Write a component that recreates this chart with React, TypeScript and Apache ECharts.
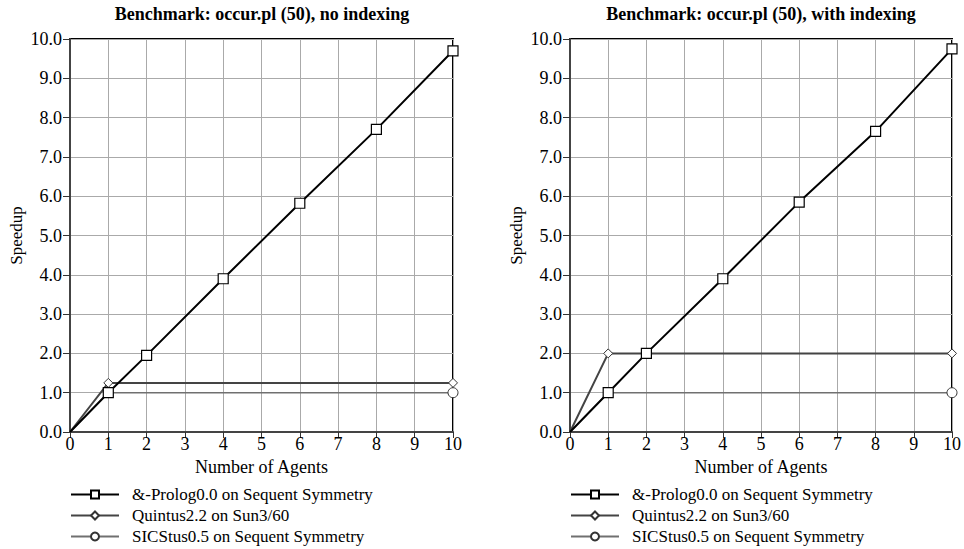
import React, { useEffect, useRef } from "react";
import * as echarts from "echarts";

const titles = ["Benchmark: occur.pl (50), no indexing", "Benchmark: occur.pl (50), with indexing"];
const seriesNames = ["&-Prolog0.0 on Sequent Symmetry", "Quintus2.2 on Sun3/60", "SICStus0.5 on Sequent Symmetry"];

const prologAgents = [0, 1, 2, 4, 6, 8, 10];
const prologNoIdx = [0, 1.0, 1.95, 3.9, 5.82, 7.7, 9.7];
const prologIdx = [0, 1.0, 2.0, 3.9, 5.85, 7.65, 9.75];

const flatAgents = [0, 1, 10];
const quintusNoIdx = [0, 1.25, 1.25];
const quintusIdx = [0, 2.0, 2.0];
const sicstusNoIdx = [0, 1.0, 1.0];
const sicstusIdx = [0, 1.0, 1.0];

const FONT = "'Liberation Serif', 'Times New Roman', serif";

function pts(xs: number[], ys: number[], hidden: number[]) {
  return xs.map((x, i) =>
    hidden.includes(i) ? { value: [x, ys[i]], symbol: "none" } : { value: [x, ys[i]] }
  );
}

export default function App() {
  const ref = useRef<HTMLDivElement>(null);
  useEffect(() => {
    document.body.style.margin = "0";
    const chart = echarts.init(ref.current!, null, { renderer: "svg" });
    const grids = [
      { left: 70, top: 39, width: 383, height: 393 },
      { left: 570, top: 39, width: 382, height: 393 },
    ];
    const data = [
      [prologNoIdx, quintusNoIdx, sicstusNoIdx],
      [prologIdx, quintusIdx, sicstusIdx],
    ];
    const series: any[] = [];
    [0, 1].forEach((g) => {
      series.push({
        type: "line",
        name: seriesNames[0],
        xAxisIndex: g,
        yAxisIndex: g,
        data: pts(prologAgents, data[g][0], [0]),
        symbol: "rect",
        symbolSize: 10,
        z: 5,
        lineStyle: { color: "#000", width: 2 },
        itemStyle: { color: "#fff", borderColor: "#000", borderWidth: 1.2 },
      });
      series.push({
        type: "line",
        name: seriesNames[1],
        xAxisIndex: g,
        yAxisIndex: g,
        data: pts(flatAgents, data[g][1], [0]),
        symbol: "diamond",
        symbolSize: 9,
        z: 4,
        lineStyle: { color: "#444", width: 2 },
        itemStyle: { color: "#fff", borderColor: "#333", borderWidth: 1 },
      });
      series.push({
        type: "line",
        name: seriesNames[2],
        xAxisIndex: g,
        yAxisIndex: g,
        data: pts(flatAgents, data[g][2], [0, 1]),
        symbol: "circle",
        symbolSize: 10,
        z: 3,
        lineStyle: { color: "#707070", width: 1.5 },
        itemStyle: { color: "#fff", borderColor: "#333", borderWidth: 1 },
      });
    });

    const xAxis = [0, 1].map((g) => ({
      type: "value",
      gridIndex: g,
      min: 0,
      max: 10,
      interval: 1,
      name: "Number of Agents",
      nameLocation: "middle",
      nameGap: 25,
      nameTextStyle: { fontFamily: FONT, fontSize: 18, color: "#000" },
      axisLine: { show: true, lineStyle: { color: "#444", width: 2 } },
      axisTick: { show: true, length: 6, lineStyle: { color: "#333" } },
      axisLabel: { fontFamily: FONT, fontSize: 18, color: "#000", margin: 3 },
      splitLine: { show: true, lineStyle: { color: "#aaa", width: 1 } },
    }));
    const yAxis = [0, 1].map((g) => ({
      type: "value",
      gridIndex: g,
      min: 0,
      max: 10,
      interval: 1,
      name: "Speedup",
      nameLocation: "middle",
      nameGap: 45,
      nameRotate: 90,
      nameTextStyle: { fontFamily: FONT, fontSize: 17, color: "#000" },
      axisLine: { show: true, lineStyle: { color: "#444", width: 2 } },
      axisTick: { show: true, length: 7, lineStyle: { color: "#333" } },
      axisLabel: {
        fontFamily: FONT,
        fontSize: 18,
        color: "#000",
        margin: 8,
        formatter: (v: number) => v.toFixed(1),
      },
      splitLine: { show: true, lineStyle: { color: "#aaa", width: 1 } },
    }));

    const legends: any[] = [];
    [0, 1].forEach((g) => {
      seriesNames.forEach((n, i) => {
        legends.push({
          orient: "vertical",
          left: g === 0 ? 70 : 570,
          top: 486 + i * 21,
          padding: 0,
          itemWidth: 48,
          itemHeight: 10,
          data: [n],
          selectedMode: false,
          textStyle: { fontFamily: FONT, fontSize: 17, color: "#000", padding: [0, 0, 0, 8] },
        });
      });
    });

    chart.setOption({
      animation: false,
      backgroundColor: "#fff",
      title: [0, 1].map((g) => ({
        text: titles[g],
        left: g === 0 ? 257 : 756,
        textAlign: "center",
        top: 0,
        textStyle: { fontFamily: FONT, fontSize: 18, fontWeight: "bold", color: "#000" },
      })),
      grid: grids.map((gr) => ({
        ...gr,
        show: true,
        borderColor: "#000",
        borderWidth: 2,
        backgroundColor: "transparent",
      })),
      legend: legends,
      xAxis,
      yAxis,
      series,
    });
    return () => chart.dispose();
  }, []);
  return (
    <div
      ref={ref}
      style={{ position: "absolute", left: 0, top: 0, width: 964, height: 549 }}
    />
  );
}
